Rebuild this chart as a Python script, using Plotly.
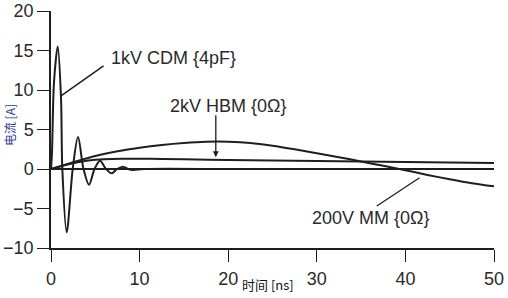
import plotly.graph_objects as go

# ---- data ----
cdm_t = [0, 0.11, 0.34, 0.76, 1.13, 1.28, 1.77, 2.45, 3.05, 3.67, 4.29, 4.91, 5.53, 6.2, 6.85, 7.45, 8.13, 8.7, 9.25, 10.5, 20, 30, 40, 50]
cdm_i = [0, 2.0, 11.0, 15.5, 9.0, 0.0, -8.0, 0.0, 4.05, 0.0, -2.0, 0.0, 1.05, 0.0, -0.55, 0.0, 0.3, 0.0, -0.12, 0.0, 0, 0, 0, 0]

hbm_t = [0, 1, 2, 3, 4, 5, 6, 8, 10, 12.5, 15, 20, 25, 30, 35, 40, 45, 50]
hbm_i = [0, 0.3, 0.6, 0.85, 1.05, 1.18, 1.25, 1.3, 1.3, 1.27, 1.22, 1.14, 1.08, 1.02, 0.95, 0.88, 0.81, 0.75]

mm_t = [0, 2.5, 5, 7.5, 10, 12.5, 15, 17.5, 20, 22.5, 25, 27.5, 30, 32.5, 35, 37.5, 40, 42.5, 45, 47.5, 50]
mm_i = [0, 0.85, 1.65, 2.25, 2.7, 3.05, 3.3, 3.45, 3.45, 3.3, 2.95, 2.5, 2.0, 1.5, 0.95, 0.4, -0.15, -0.75, -1.3, -1.8, -2.2]

x_ticks = [0, 10, 20, 30, 40, 50]
y_ticks = [-10, -5, 0, 5, 10, 15, 20]

labels = ["1kV CDM {4pF}", "2kV HBM {0Ω}", "200V MM {0Ω}"]
x_title = "时间 [ns]"
y_title = "电流 [A]"

FONT = "Liberation Sans, Arial, sans-serif"
INK = "#1e1e1e"
TXT = "#2a2a2a"

fig = go.Figure()
for t, i in [(cdm_t, cdm_i), (hbm_t, hbm_i), (mm_t, mm_i)]:
    fig.add_trace(go.Scatter(x=t, y=i, mode="lines",
                             line=dict(color=INK, width=2, shape="spline", smoothing=0.9),
                             showlegend=False, hoverinfo="skip"))

fig.update_layout(
    width=508, height=298,
    margin=dict(l=51, r=14, t=11, b=50),
    paper_bgcolor="white", plot_bgcolor="white",
    font=dict(family=FONT, size=18, color=TXT),
    xaxis=dict(range=[0, 50], tickvals=x_ticks, showgrid=False, zeroline=False,
               automargin=False, ticklabelstandoff=2,
               showline=True, linecolor=INK, linewidth=1.5,
               ticks="outside", ticklen=12, tickwidth=1.3, tickcolor=INK,
               tickfont=dict(size=18, color=TXT)),
    yaxis=dict(range=[-10, 20], tickvals=y_ticks, showgrid=False,
               automargin=False,
               zeroline=True, zerolinecolor=INK, zerolinewidth=1.5,
               showline=True, linecolor=INK, linewidth=1.5,
               ticks="outside", ticklen=12, tickwidth=1.3, tickcolor=INK,
               tickfont=dict(size=18, color=TXT)),
)

# axis titles
fig.add_annotation(xref="paper", yref="paper", x=0.49, y=-0.156, text=x_title,
                   showarrow=False, font=dict(family="Noto Sans CJK SC", size=13, color="#111111"),
                   xanchor="center", yanchor="middle")
fig.add_annotation(xref="paper", yref="paper", x=-0.094, y=0.52, text=y_title, textangle=-90,
                   showarrow=False, font=dict(family="Noto Sans CJK SC", size=12, color="#1f3c9c"),
                   xanchor="center", yanchor="middle")

# curve labels
fig.add_annotation(x=6.6, y=14.1, text=labels[0], showarrow=False, xanchor="left", yanchor="middle",
                   font=dict(size=18, color=TXT))
fig.add_annotation(x=13.2, y=8.0, text=labels[1], showarrow=False, xanchor="left", yanchor="middle",
                   font=dict(size=18, color=TXT))
fig.add_annotation(x=29.2, y=-6.15, text=labels[2], showarrow=False, xanchor="left", yanchor="middle",
                   font=dict(size=18, color=TXT))

# pointer lines
fig.add_annotation(x=1.05, y=9.2, ax=6.1, ay=13.2, axref="x", ayref="y", text="",
                   showarrow=True, arrowhead=0, arrowwidth=1.5, arrowcolor=INK)
fig.add_annotation(x=18.6, y=1.5, ax=18.6, ay=7.0, axref="x", ayref="y", text="",
                   showarrow=True, arrowhead=2, arrowsize=0.9, arrowwidth=1.3, arrowcolor=INK)
fig.add_annotation(x=41.6, y=-1.1, ax=36.6, ay=-4.8, axref="x", ayref="y", text="",
                   showarrow=True, arrowhead=0, arrowwidth=1.3, arrowcolor=INK)

fig.write_html("out.html")
